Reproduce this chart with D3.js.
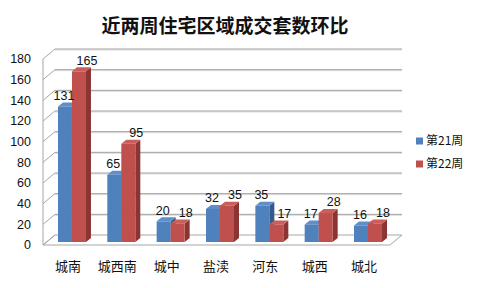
<!DOCTYPE html>
<html>
<head>
<meta charset="utf-8">
<script src="https://cdn.jsdelivr.net/npm/d3@7"></script>
<style>
  body { margin: 0; background: #fff; }
  svg { display: block; }
</style>
</head>
<body>
<div class="chart"></div>
<script>
// --- Data ---
const categories = ["城南", "城西南", "城中", "盐渎", "河东", "城西", "城北"];
const seriesNames = ["第21周", "第22周"];
const week21 = [131, 65, 20, 32, 35, 17, 16];
const week22 = [165, 95, 18, 35, 17, 28, 18];
const yTicks = [0, 20, 40, 60, 80, 100, 120, 140, 160, 180];

const W = 484, H = 288;
const depthX = 12, depthY = -10;   // wall depth offset
const barDX = 5, barDY = -4;       // bar depth

const faceColors = ["#4F81BD", "#C0504D"];
const sideColors = ["#36598A", "#8B3533"];
const topColors  = ["#5E8FCB", "#C95E5B"];
const labelShift = [-1, 8];        // labels lean right like the 3D original

const svg = d3.select(".chart").append("svg")
    .attr("width", W).attr("height", H);

// wall scale (front edge); back edge = front + depth offset
const yWall = d3.scaleLinear().domain([0, 180]).range([245, 59]);
// bar scale, bars sit slightly into the floor
const yBar = d3.scaleLinear().domain([0, 180]).range([242, 55.8]);

const x0 = d3.scaleBand().domain(categories).range([47.3, 392.7]);
const x1 = d3.scaleBand().domain(seriesNames).range([0, 28]);

const leftX = 43, rightX = 390;

// --- floor ---
svg.append("path")
    .attr("d", `M${leftX},${yWall(0)} L${rightX},${yWall(0)} L${rightX + depthX},${yWall(0) + depthY} L${leftX + depthX},${yWall(0) + depthY} Z`)
    .attr("fill", "none")
    .attr("stroke", "#a6a6a6")
    .attr("stroke-width", 1);

// --- gridlines: left wall diagonals + back wall horizontals ---
const grid = svg.append("g");
yTicks.forEach(v => {
    const yf = yWall(v), yb = yf + depthY;
    grid.append("line")
        .attr("x1", leftX).attr("y1", yf)
        .attr("x2", leftX + depthX).attr("y2", yb)
        .attr("stroke", "#a6a6a6");
    if (v > 0) {
        grid.append("line")
            .attr("x1", leftX + depthX).attr("y1", yb + 1)
            .attr("x2", rightX + depthX).attr("y2", yb + 1)
            .attr("stroke", "#dcdcdc");
        grid.append("line")
            .attr("x1", leftX + depthX).attr("y1", yb)
            .attr("x2", rightX + depthX).attr("y2", yb)
            .attr("stroke", "#a0a0a0");
    }
});
// left wall front edge
grid.append("line")
    .attr("x1", leftX).attr("y1", yWall(180))
    .attr("x2", leftX).attr("y2", yWall(0))
    .attr("stroke", "#a6a6a6");

// --- y tick labels ---
svg.append("g").selectAll("text")
    .data(yTicks).join("text")
    .attr("x", 31)
    .attr("y", d => yWall(d))
    .attr("dy", "0.35em")
    .attr("text-anchor", "end")
    .style("font-family", "'Liberation Sans', Arial, sans-serif")
    .style("font-size", "12.5px")
    .style("fill", "#111")
    .text(d => d);

// --- bars ---
const rows = categories.map((c, i) => ({ cat: c, vals: [week21[i], week22[i]] }));
const bars = [];
rows.forEach(r => {
    r.vals.forEach((v, si) => {
        bars.push({ cat: r.cat, s: si, v: v,
            x: x0(r.cat) + (x0.bandwidth() - 28) / 2 + x1(seriesNames[si]),
            w: x1.bandwidth() });
    });
});

const bg = svg.append("g");
bars.forEach(b => {
    const g = bg.append("g");
    const xa = b.x, xb = b.x + b.w, yt = yBar(b.v), y0 = yBar(0);
    // side face
    g.append("path")
        .attr("d", `M${xb},${yt} L${xb + barDX},${yt + barDY} L${xb + barDX},${y0 + barDY} L${xb},${y0} Z`)
        .attr("fill", sideColors[b.s]);
    // top face
    g.append("path")
        .attr("d", `M${xa},${yt} L${xa + barDX},${yt + barDY} L${xb + barDX},${yt + barDY} L${xb},${yt} Z`)
        .attr("fill", topColors[b.s]);
    // front face
    g.append("rect")
        .attr("x", xa).attr("y", yt)
        .attr("width", b.w).attr("height", y0 - yt)
        .attr("fill", faceColors[b.s]);
});

// --- value labels ---
svg.append("g").selectAll("text")
    .data(bars).join("text")
    .attr("x", d => d.x + d.w / 2 + labelShift[d.s])
    .attr("y", d => yBar(d.v) - 11)
    .attr("dy", "0.35em")
    .attr("text-anchor", "middle")
    .style("font-family", "'Liberation Sans', Arial, sans-serif")
    .style("font-size", "12.5px")
    .style("fill", "#111")
    .text(d => d.v);

// --- category labels ---
svg.append("g").selectAll("text")
    .data(categories).join("text")
    .attr("x", d => x0(d) + x0.bandwidth() / 2 - 4)
    .attr("y", 266)
    .attr("dy", "0.35em")
    .attr("text-anchor", "middle")
    .style("font-family", "'Noto Sans CJK SC', sans-serif")
    .style("font-size", "13px")
    .style("fill", "#111")
    .text(d => d);

// --- legend ---
const legend = svg.append("g").attr("transform", "translate(416,141)");
seriesNames.forEach((n, i) => {
    const row = legend.append("g").attr("transform", `translate(0,${i * 23})`);
    row.append("rect")
        .attr("x", 0).attr("y", -3.5)
        .attr("width", 7).attr("height", 7)
        .attr("fill", faceColors[i]);
    row.append("text")
        .attr("x", 10).attr("y", 0)
        .attr("dy", "0.35em")
        .style("font-family", "'Noto Sans CJK SC', sans-serif")
        .style("font-size", "12px")
        .style("fill", "#111")
        .text(n);
});

// --- title ---
svg.append("text")
    .attr("x", 225)
    .attr("y", 26)
    .attr("dy", "0.35em")
    .attr("text-anchor", "middle")
    .style("font-family", "'Noto Sans CJK SC', sans-serif")
    .style("font-size", "19px")
    .style("font-weight", "bold")
    .style("fill", "#111")
    .text("近两周住宅区域成交套数环比");
</script>
</body>
</html>
